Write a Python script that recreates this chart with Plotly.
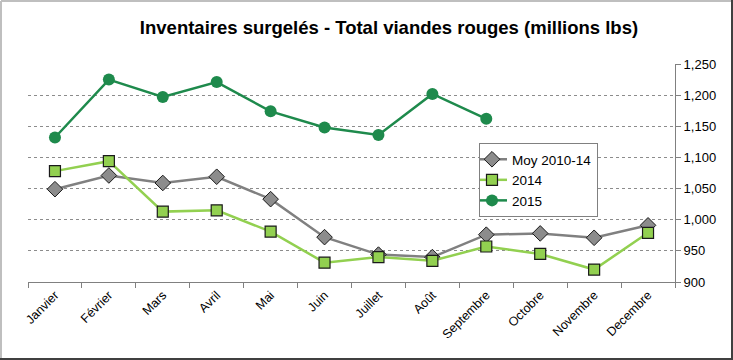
import plotly.graph_objects as go

months = ["Janvier", "Février", "Mars", "Avril", "Mai", "Juin", "Juillet",
          "Août", "Septembre", "Octobre", "Novembre", "Decembre"]
moy = [1049, 1071, 1059, 1069, 1033, 972, 944, 940, 976, 978, 971, 991]
y2014 = [1078, 1094, 1013, 1015, 981, 931, 940, 934, 957, 945, 920, 979]
y2015 = [1132, 1225, 1197, 1221, 1174, 1148, 1136, 1202, 1162]

fig = go.Figure()
fig.add_trace(go.Scatter(
    x=months, y=moy, name="Moy 2010-14", mode="lines+markers",
    line=dict(color="#808080", width=2.5),
    marker=dict(symbol="diamond", size=12, color="#8c8c8c",
                line=dict(color="#1a1a1a", width=1))))
fig.add_trace(go.Scatter(
    x=months, y=y2014, name="2014", mode="lines+markers",
    line=dict(color="#92d050", width=2.5),
    marker=dict(symbol="square", size=11, color="#92d050",
                line=dict(color="#1a1a1a", width=1.2))))
fig.add_trace(go.Scatter(
    x=months[:len(y2015)], y=y2015, name="2015", mode="lines+markers",
    line=dict(color="#1e8a4c", width=2.5),
    marker=dict(symbol="circle", size=12, color="#1e8a4c")))

L, R, T, B = 28, 58, 64, 78
pw, ph = 733 - L - R, 360 - T - B

def px(x):
    return (x - L) / pw

def py(y):
    return (360 - B - y) / ph

def seg(x0, y0, x1, y1, color, w):
    return dict(type="line", xref="paper", yref="paper",
                x0=px(x0), x1=px(x1), y0=py(y0), y1=py(y1),
                line=dict(color=color, width=w))

fig.update_layout(
    width=733, height=360,
    margin=dict(l=L, r=R, t=T, b=B, autoexpand=False),
    paper_bgcolor="white", plot_bgcolor="white",
    font=dict(family="Liberation Sans, Arial, sans-serif", size=12, color="#000"),
    title=dict(text="<b>Inventaires surgelés - Total viandes rouges (millions lbs)</b>",
               x=389 / 733, xanchor="center", y=1 - 28 / 360, yanchor="middle",
               font=dict(size=18.5, color="#000"), automargin=False),
    showlegend=True,
    legend=dict(x=px(479), y=py(143), xanchor="left", yanchor="top",
                bordercolor="#808080", borderwidth=1, bgcolor="white",
                font=dict(size=13.5), tracegroupgap=0, itemwidth=30,
                indentation=-8, entrywidth=95),
    xaxis=dict(type="category", tickson="boundaries", showline=True,
               linecolor="#808080", linewidth=1, ticks="outside",
               tickcolor="#808080", ticklen=5, tickangle=-45,
               showgrid=False, tickfont=dict(size=12.5),
               range=[-0.5, 11.5], automargin=False),
    yaxis=dict(side="right", range=[900, 1250], dtick=50, tickformat=",",
               showline=True, linecolor="#808080", linewidth=1,
               ticks="outside", tickcolor="#808080", ticklen=5,
               showgrid=True, gridcolor="#8c8c8c", griddash="dot",
               gridwidth=1, zeroline=False, tickfont=dict(size=13),
               automargin=False),
    shapes=[
        seg(1, 1, 732, 1, "#bfbfbf", 2),
        seg(1, 1, 1, 359, "#bfbfbf", 2),
        seg(0, 359, 733, 359, "#404040", 2),
        seg(732, 0, 732, 360, "#404040", 2),
    ],
)

fig.write_html("out.html", config={"displayModeBar": False},
               post_script="document.body.style.margin='0';document.body.style.overflow='hidden';")
